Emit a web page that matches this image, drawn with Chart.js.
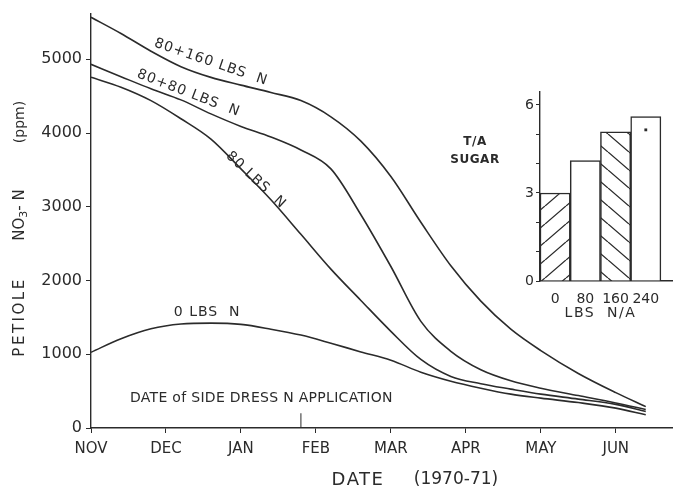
<!DOCTYPE html>
<html>
<head>
<meta charset="utf-8">
<script src="https://cdn.jsdelivr.net/npm/chart.js@4.4.1/dist/chart.umd.min.js"></script>
<style>
html,body{margin:0;padding:0;background:#fff;}
#wrap{position:relative;width:673px;height:491px;overflow:hidden;}
#main{position:absolute;left:0;top:0;}
#inset{position:absolute;left:440px;top:80px;}
</style>
</head>
<body>
<div id="wrap">
<canvas id="main" width="673" height="491"></canvas>
<canvas id="inset" width="237" height="250"></canvas>
</div>
<script>
/* petiole NO3-N through the season, with a sugar-yield inset */

// x axis: months counted from 1 Nov
const months=["NOV","DEC","JAN","FEB","MAR","APR","MAY","JUN"]
const yTicks=[0,1000,2000,3000,4000,5000]

// sample points along the season (months after 1 Nov)
const sampleMonth=[0,0.4,0.8,1.2,1.6,2.0,2.4,2.8,3.2,3.6,4.0,4.4,4.8,5.2,5.6,6.0,6.5,7.0,7.4]

// NO3-N (ppm)
const n80plus160=[5570,5350,5110,4900,4755,4650,4550,4440,4220,3890,3410,2790,2200,1720,1340,1050,740,480,290]
const n80plus80=[4932,4765,4600,4450,4260,4090,3946,3770,3514,2892,2190,1446,1040,790,640,540,440,340,250]
const n80=[4757,4622,4440,4194,3918,3514,3095,2627,2155,1730,1311,930,700,600,527,459,392,320,225]
const n0=[1027,1210,1345,1410,1422,1405,1340,1260,1150,1032,919,757,635,540,459,405,345,270,180]

// side dress date
const sideDressMonth=2.8
const sideDressMark=[0,200]

// inset: sugar T/A by N rate
const nRates=["0","80","160","240"]
const sugarTA=[3.0,4.1,5.08,5.6]
const sugarTicks=[0,1,2,3,4,5,6]
const sugarStar=[5.15]   // the little mark on the 240 bar

const INK="#2b2b2b"
const FONT='"DejaVu Sans", sans-serif'

const pts=vals=>sampleMonth.map((m,i)=>({x:m,y:vals[i]}))

function curve(vals){
  return {data:pts(vals),borderColor:INK,borderWidth:1.6,pointRadius:0,
    cubicInterpolationMode:"monotone",fill:false}
}

// labels written on the curves (data coords + angle)
const curveNotes=[
  {text:"80+160 LBS  N",month:1.6,ppm:4960,angle:19},
  {text:"80+80 LBS  N",month:1.3,ppm:4540,angle:21},
  {text:"80 LBS  N",month:2.2,ppm:3360,angle:43},
  {text:"0 LBS  N",month:1.55,ppm:1570,angle:0}
]

function drawRuns(ctx,runs,cx,cy){
  let total=0
  runs.forEach(r=>{ctx.font=r.size+"px "+FONT;ctx.letterSpacing=(r.ls||0)+"px";r.w=ctx.measureText(r.t).width;total+=r.w})
  let x=cx-total/2
  runs.forEach(r=>{
    ctx.font=r.size+"px "+FONT
    ctx.letterSpacing=(r.ls||0)+"px"
    ctx.textAlign="left"
    ctx.fillText(r.t,x,cy+(r.dy||0))
    x+=r.w
  })
}

const figText={
  id:"figText",
  afterDraw(chart){
    const {ctx,scales:{x,y}}=chart
    ctx.save()
    ctx.fillStyle=INK
    ctx.textBaseline="middle"
    ctx.textAlign="center"

    curveNotes.forEach(n=>{
      ctx.save()
      ctx.translate(x.getPixelForValue(n.month),y.getPixelForValue(n.ppm))
      ctx.rotate(n.angle*Math.PI/180)
      ctx.font="14px "+FONT
      ctx.letterSpacing="1px"
      ctx.fillText(n.text,0,0)
      ctx.restore()
    })

    // side dress note
    ctx.font="14px "+FONT
    ctx.letterSpacing="0.3px"
    ctx.textAlign="left"
    ctx.fillText("DATE of SIDE DRESS N APPLICATION",x.getPixelForValue(0.52),y.getPixelForValue(405))

    // x title
    ctx.textAlign="center"
    ctx.font="18px "+FONT
    ctx.letterSpacing="1.5px"
    ctx.fillText("DATE",358,480)
    ctx.font="17px "+FONT
    ctx.letterSpacing="0px"
    ctx.fillText("(1970-71)",456,480)

    // y title, rotated
    ctx.save()
    ctx.translate(20,0)
    ctx.rotate(-Math.PI/2)
    ctx.font="15px "+FONT
    ctx.letterSpacing="2.5px"
    ctx.textAlign="center"
    ctx.fillText("PETIOLE",-317,0)
    drawRuns(ctx,[{t:"NO",size:15},{t:"3",size:11,dy:4},{t:"- N",size:15}],-215,0)
    ctx.font="14px "+FONT
    ctx.letterSpacing="0px"
    ctx.textAlign="center"
    ctx.fillText("(ppm)",-122,0)
    ctx.restore()

    ctx.restore()
  }
}

new Chart(document.getElementById("main"),{
  type:"line",
  data:{
    datasets:[
      curve(n80plus160),
      curve(n80plus80),
      curve(n80),
      curve(n0),
      {data:sideDressMark.map(v=>({x:sideDressMonth,y:v})),borderColor:INK,borderWidth:1,pointRadius:0}
    ]
  },
  options:{
    responsive:false,
    animation:false,
    layout:{padding:{top:12,right:1,left:0,bottom:0}},
    plugins:{legend:{display:false},tooltip:{enabled:false}},
    scales:{
      x:{
        type:"linear",min:0,max:7.75,
        afterBuildTicks:s=>{s.ticks=months.map((m,i)=>({value:i}))},
        afterFit:s=>{s.height=63},
        ticks:{callback:v=>months[v],font:{family:FONT,size:15},color:INK,padding:7,maxRotation:0,autoSkip:false},
        grid:{display:true,drawOnChartArea:false,drawTicks:true,tickLength:5,color:INK},
        border:{color:INK,width:1.4}
      },
      y:{
        min:0,max:5620,
        afterBuildTicks:s=>{s.ticks=yTicks.map(v=>({value:v}))},
        afterFit:s=>{s.width=91},
        ticks:{callback:v=>String(v),font:{family:FONT,size:16},color:INK,padding:4},
        grid:{display:true,drawOnChartArea:false,drawTicks:true,tickLength:5,color:INK},
        border:{color:INK,width:1.4}
      }
    }
  },
  plugins:[figText]
})

/* ---------- inset bars ---------- */

function hatch(dir){
  const c=document.createElement("canvas")
  const w=21,h=18
  c.width=w;c.height=h
  const g=c.getContext("2d")
  g.fillStyle="#fff";g.fillRect(0,0,w,h)
  g.strokeStyle=INK;g.lineWidth=1.3
  g.beginPath()
  for(let k=-1;k<=1;k++){
    if(dir>0){g.moveTo(k*w,h);g.lineTo(k*w+w,0)}
    else{g.moveTo(k*w,0);g.lineTo(k*w+w,h)}
  }
  g.stroke()
  return g.createPattern(c,"repeat")
}

const insetText={
  id:"insetText",
  afterDraw(chart){
    const {ctx,scales:{x}}=chart
    ctx.save()
    ctx.fillStyle=INK
    ctx.textAlign="center"
    ctx.textBaseline="middle"
    ctx.font="bold 12px "+FONT
    ctx.letterSpacing="0.5px"
    ctx.fillText("T/A",35,62)
    ctx.fillText("SUGAR",35,80)
    ctx.font="14px "+FONT
    ctx.letterSpacing="1.5px"
    ctx.fillText("LBS  N/A",(x.getPixelForValue(0)+x.getPixelForValue(3))/2,233)
    ctx.restore()
  }
}

new Chart(document.getElementById("inset"),{
  data:{
    datasets:[
      {type:"bar",order:2,data:sugarTA.map((v,i)=>({x:i,y:v})),
        backgroundColor:[hatch(1),"#fff",hatch(-1),"#fff"],
        borderColor:INK,borderWidth:1.5,barPercentage:1,categoryPercentage:1},
      {type:"scatter",order:1,data:sugarStar.map(v=>({x:3,y:v})),pointStyle:"rect",pointRadius:2,
        backgroundColor:INK,borderColor:INK,borderWidth:0}
    ]
  },
  options:{
    responsive:false,
    animation:false,
    layout:{padding:{top:12,right:0,left:0,bottom:0}},
    plugins:{legend:{display:false},tooltip:{enabled:false}},
    scales:{
      x:{
        type:"linear",min:-0.5,max:3.9,offset:false,
        afterBuildTicks:s=>{s.ticks=nRates.map((r,i)=>({value:i}))},
        afterFit:s=>{s.height=49},
        ticks:{callback:v=>nRates[v],font:{family:FONT,size:14},color:INK,padding:2,maxRotation:0,autoSkip:false},
        grid:{display:false,offset:false},
        border:{color:INK,width:1.4}
      },
      y:{
        min:0,max:6.44,
        afterBuildTicks:s=>{s.ticks=sugarTicks.map(v=>({value:v}))},
        afterFit:s=>{s.width=100},
        ticks:{callback:v=>v%3===0?String(v):"",font:{family:FONT,size:14},color:INK,padding:2},
        grid:{display:true,drawOnChartArea:false,drawTicks:true,tickLength:4,color:INK},
        border:{color:INK,width:1.4}
      }
    }
  },
  plugins:[insetText]
})
</script>
</body>
</html>
